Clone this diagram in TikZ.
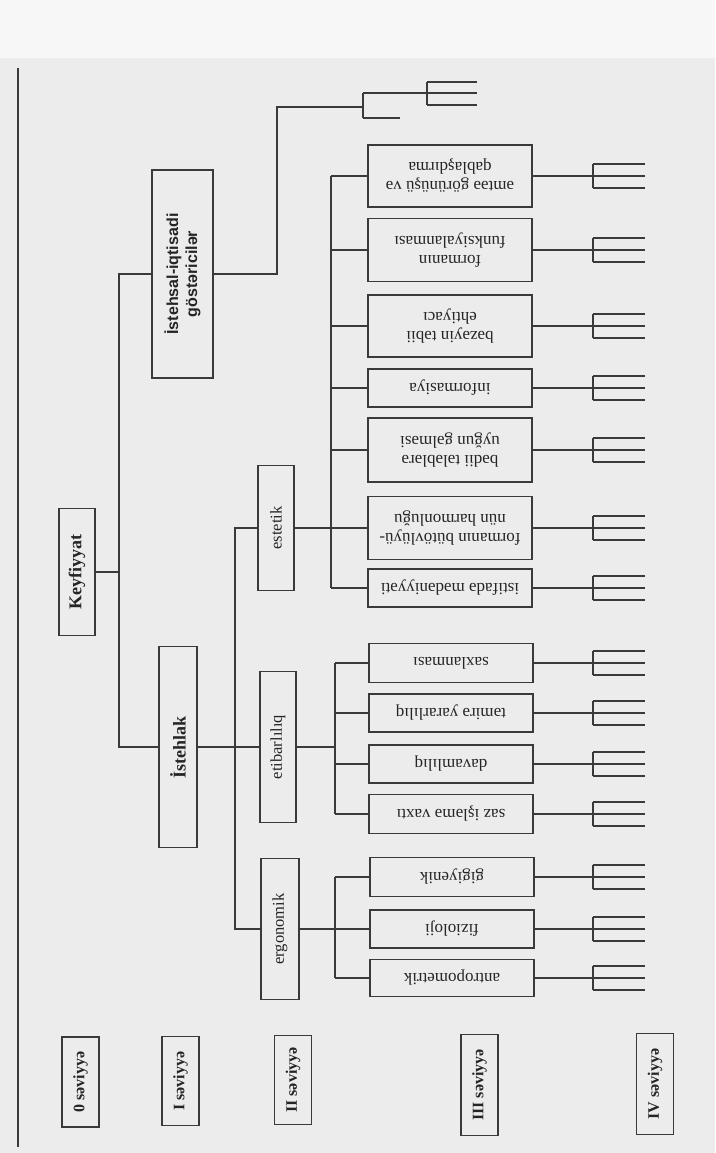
\documentclass[tikz,border=0pt]{standalone}
\usepackage{fontspec}
\setmainfont{Liberation Serif}
\newfontfamily\sansf{Liberation Sans}
\usetikzlibrary{calc}
\definecolor{ink}{HTML}{3A3A3A}
\definecolor{textc}{HTML}{252525}
\definecolor{paper}{HTML}{ECECEC}
\definecolor{papertop}{HTML}{F7F7F7}
\begin{document}
\begin{tikzpicture}[x=1pt,y=-1pt,line width=1.2pt,draw=ink,
  box/.style={draw=ink,rectangle,inner sep=0pt,align=center,text=textc},
  lthree/.style={box,rotate=180,minimum width=164pt,font=\fontsize{17}{19}\selectfont},
  ltwo/.style={box,rotate=90,font=\fontsize{16.5}{18}\selectfont},
  lbold/.style={box,rotate=90,font=\fontsize{18}{20}\selectfont\bfseries},
  lvl/.style={box,rotate=90,minimum height=37pt,font=\fontsize{16}{18}\selectfont\bfseries},
  wire/.style={draw=ink,line width=1.2pt}]
% page
\fill[paper] (0,0) rectangle (715,1153);
\fill[papertop] (0,0) rectangle (715,58);
\useasboundingbox (0,0) rectangle (715,1153);
\coordinate (pt) at (18,68);
\coordinate (pb) at (18,1147);
\draw[wire] (pt) -- (pb);

% level 0 / I
\node[lbold,minimum width=127pt,minimum height=36pt] (K) at (77,572) {Keyfiyyat};
\node[box,rotate=90,minimum width=208pt,minimum height=61pt,font=\sansf\bfseries\fontsize{16}{19}\selectfont] (IS) at (182.5,274) {İstehsal-iqtisadi\\göstəricilər};
\node[lbold,minimum width=201pt,minimum height=38pt] (IL) at (178,747) {İstehlak};

% level II
\node[ltwo,minimum width=125pt,minimum height=36pt] (ES) at (276,528) {estetik};
\node[ltwo,minimum width=151pt,minimum height=36pt] (ET) at (278,747) {etibarlılıq};
\node[ltwo,minimum width=141pt,minimum height=38pt] (ER) at (280,929) {ergonomik};

% level III
\node[lthree,minimum height=62pt] (b1) at (450,176) {əmtəə görünüşü və\\qablaşdırma};
\node[lthree,minimum height=63pt] (b2) at (450,250) {formanın\\funksiyalanması};
\node[lthree,minimum height=62pt] (b3) at (450,326) {bəzəyin təbii\\ehtiyacı};
\node[lthree,minimum height=38pt] (b4) at (450,388) {informasiya};
\node[lthree,minimum height=64pt] (b5) at (450,450) {bədii tələblərə\\uyğun gəlməsi};
\node[lthree,minimum height=63pt] (b6) at (450,528) {formanın bütövlüyü-\\nün harmonluğu};
\node[lthree,minimum height=38pt] (b7) at (450,588) {istifadə mədəniyyəti};
\node[lthree,minimum height=39pt] (b8) at (451,663) {saxlanması};
\node[lthree,minimum height=38pt] (b9) at (451,713) {təmirə yararlılıq};
\node[lthree,minimum height=38pt] (b10) at (451,764) {davamlılıq};
\node[lthree,minimum height=39pt] (b11) at (451,814) {saz işləmə vaxtı};
\node[lthree,minimum height=39pt] (b12) at (452,877) {gigiyenik};
\node[lthree,minimum height=38pt] (b13) at (452,929) {fizioloji};
\node[lthree,minimum height=37pt] (b14) at (452,978) {antropometrik};

% level labels
\node[lvl,minimum width=90pt] (L0) at (80.5,1082) {0 səviyyə};
\node[lvl,minimum width=89pt] (L1) at (180.5,1081) {I səviyyə};
\node[lvl,minimum width=89pt] (L2) at (293,1080) {II səviyyə};
\node[lvl,minimum width=101pt] (L3) at (479.5,1085) {III səviyyə};
\node[lvl,minimum width=101pt] (L4) at (655,1084) {IV səviyyə};

% bus coordinates
\coordinate (j1) at (119,572);
\coordinate (j2) at (235,747);
\coordinate (bus1) at (331,0);
\coordinate (bus2) at (335,0);
\coordinate (fx) at (593,0);
\coordinate (fe) at (645,0);

% level 0 -> I
\draw[wire] (K) -- (j1);
\draw[wire] (j1) |- (IS);
\draw[wire] (j1) |- (IL);

% production branch: stub fork
\coordinate (s1) at (277,107);
\coordinate (s2) at (363,107);
\coordinate (s3) at (363,93);
\coordinate (s4) at (363,118);
\coordinate (s5) at (427,93);
\coordinate (s6) at (400,118);
\draw[wire] (IS) -| (s1) -- (s2);
\draw[wire] (s3) -- (s4);
\draw[wire] (s3) -- (s5);
\draw[wire] (s4) -- (s6);
\draw[wire] ($(s5)+(0,-11)$) -- ($(s5)+(0,12)$);
\foreach \d in {-11,0,12} \draw[wire] ($(s5)+(0,\d)$) -- ($(s5)+(50,\d)$);

% consumption branch
\draw[wire] (IL) -- (j2);
\draw[wire] (j2) |- (ES);
\draw[wire] (j2) |- (ER);
\draw[wire] (j2) -- (ET);

% aesthetic
\draw[wire] (ES) -- (b6);
\draw[wire] (bus1 |- b1) -- (bus1 |- b7);
\foreach \k in {1,2,3,4,5,7} \draw[wire] (bus1 |- b\k) -- (b\k);

% reliability
\draw[wire] (ET) -- (bus2 |- ET);
\draw[wire] (bus2 |- b8) -- (bus2 |- b11);
\foreach \k in {8,9,10,11} \draw[wire] (bus2 |- b\k) -- (b\k);

% ergonomic
\draw[wire] (ER) -- (bus2 |- ER);
\draw[wire] (bus2 |- b12) -- (bus2 |- b14);
\foreach \k in {12,13,14} \draw[wire] (bus2 |- b\k) -- (b\k);

% level IV forks
\foreach \k in {1,...,14} {
  \draw[wire] (b\k) -- (fx |- b\k);
  \draw[wire] ($(fx |- b\k)+(0,-12)$) -- ($(fx |- b\k)+(0,12)$);
  \foreach \d in {-12,0,12} \draw[wire] ($(fx |- b\k)+(0,\d)$) -- ($(fe |- b\k)+(0,\d)$);
}
\end{tikzpicture}
\end{document}
